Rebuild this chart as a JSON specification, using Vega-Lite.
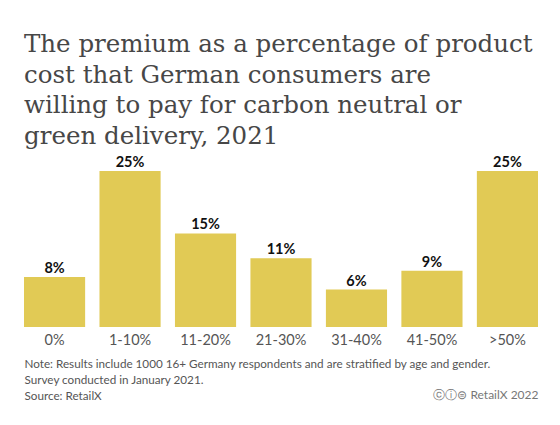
{
  "$schema": "https://vega.github.io/schema/vega-lite/v6.json",
  "width": 514,
  "height": 156,
  "autosize": {"type": "none"},
  "padding": {"left": 24, "top": 171, "right": 22, "bottom": 98},
  "background": "white",
  "title": {
    "text": [
      "The premium as a percentage of product",
      "cost that German consumers are",
      "willing to pay for carbon neutral or",
      "green delivery, 2021"
    ],
    "anchor": "start",
    "font": "DejaVu Serif",
    "fontSize": 24.5,
    "fontWeight": "normal",
    "color": "#474747",
    "lineHeight": 30.5,
    "offset": 6
  },
  "data": {
    "values": [
      {"premium": "0%", "share": 0.08},
      {"premium": "1-10%", "share": 0.25},
      {"premium": "11-20%", "share": 0.15},
      {"premium": "21-30%", "share": 0.11},
      {"premium": "31-40%", "share": 0.06},
      {"premium": "41-50%", "share": 0.09},
      {"premium": ">50%", "share": 0.25}
    ]
  },
  "encoding": {
    "x": {
      "field": "premium",
      "type": "nominal",
      "sort": null,
      "scale": {"paddingInner": 0.19, "paddingOuter": 0},
      "axis": {
        "domain": false,
        "ticks": false,
        "labelAngle": 0,
        "labelFont": "Lato",
        "labelFontSize": 14.5,
        "labelColor": "#555555",
        "labelPadding": 6,
        "title": [
          "Note: Results include 1000 16+ Germany respondents and are stratified by age and gender.",
          "Survey conducted in January 2021.",
          "Source: RetailX"
        ],
        "titleFont": "Lato",
        "titleFontSize": 11.7,
        "titleFontWeight": "normal",
        "titleColor": "#555555",
        "titleAnchor": "start",
        "titleAlign": "left",
        "titleBaseline": "alphabetic",
        "titleLineHeight": 16,
        "titleX": 0,
        "titleY": 40
      }
    },
    "y": {
      "field": "share",
      "type": "quantitative",
      "scale": {"domain": [0, 0.25], "nice": false},
      "axis": {
        "orient": "right",
        "domain": false,
        "ticks": false,
        "labels": false,
        "grid": false,
        "title": "ⓒⓘ⊜ RetailX 2022",
        "titleAngle": 0,
        "titleFont": "Lato",
        "titleFontSize": 12,
        "titleFontWeight": "normal",
        "titleColor": "#777777",
        "titleAlign": "right",
        "titleBaseline": "alphabetic",
        "titleX": 0,
        "titleY": 227
      }
    }
  },
  "layer": [
    {
      "mark": {"type": "bar", "color": "#E1CA55"}
    },
    {
      "mark": {
        "type": "text",
        "font": "Lato",
        "fontSize": 14.5,
        "fontWeight": "bold",
        "color": "#111111",
        "baseline": "alphabetic",
        "dy": -4
      },
      "encoding": {
        "text": {"field": "share", "type": "quantitative", "format": ".0%"}
      }
    }
  ],
  "config": {
    "view": {"stroke": null}
  }
}
